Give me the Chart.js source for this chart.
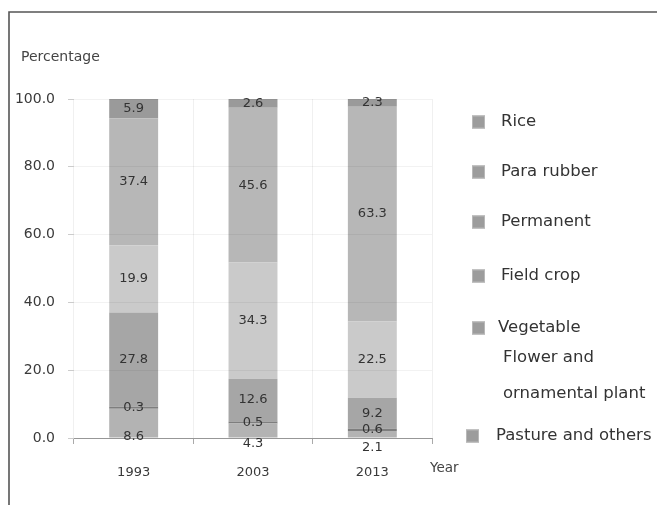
<!DOCTYPE html>
<html>
<head>
<meta charset="utf-8">
<script src="https://cdn.jsdelivr.net/npm/chart.js@4.4.1/dist/chart.umd.min.js"></script>
<style>
  html, body { margin: 0; padding: 0; background: #ffffff; }
  #wrap { width: 657px; height: 505px; position: relative; }
</style>
</head>
<body>
<div id="wrap"><canvas id="c" width="657" height="505"></canvas></div>
<script>
// ---- Data ----
const years = ['1993', '2003', '2013'];
const rice = [5.9, 2.6, 2.3];
const paraRubber = [37.4, 45.6, 63.3];
const permanent = [19.9, 34.3, 22.5];
const fieldCrop = [27.8, 12.6, 9.2];
const vegetableFlower = [0.3, 0.5, 0.6];
const pasture = [8.6, 4.3, 2.1];
const yTickValues = [0, 20, 40, 60, 80, 100];
const legendLabels = ['Rice', 'Para rubber', 'Permanent', 'Field crop', ['Vegetable', 'Flower and', 'ornamental plant'], 'Pasture and others'];

const FONT = '"DejaVu Sans", sans-serif';

// stack order bottom -> top
const datasets = [
  { label: 'Pasture and others', data: pasture, backgroundColor: '#b3b3b3', legendIndex: 5 },
  { label: 'Vegetable Flower and ornamental plant', data: vegetableFlower, backgroundColor: '#7e7e7e', minBarLength: 2, legendIndex: 4 },
  { label: 'Field crop', data: fieldCrop, backgroundColor: '#a6a6a6', legendIndex: 3 },
  { label: 'Permanent', data: permanent, backgroundColor: '#cacaca', legendIndex: 2 },
  { label: 'Para rubber', data: paraRubber, backgroundColor: '#b7b7b7', legendIndex: 1 },
  { label: 'Rice', data: rice, backgroundColor: '#9a9a9a', legendIndex: 0 }
].map(d => Object.assign({ borderWidth: 0, barPercentage: 0.41, categoryPercentage: 1.0 }, d));

const framePlugin = {
  id: 'frame',
  beforeDraw(chart) {
    const ctx = chart.ctx;
    ctx.save();
    ctx.fillStyle = '#ffffff';
    ctx.fillRect(0, 0, chart.width, chart.height);
    ctx.strokeStyle = '#555555';
    ctx.lineWidth = 1.6;
    ctx.beginPath();
    ctx.moveTo(9, 505);
    ctx.lineTo(9, 12);
    ctx.lineTo(657, 12);
    ctx.stroke();
    ctx.restore();
  }
};

const labelPlugin = {
  id: 'segLabels',
  afterDatasetsDraw(chart) {
    const ctx = chart.ctx;
    ctx.save();
    ctx.font = '13px ' + FONT;
    ctx.fillStyle = '#333333';
    ctx.textAlign = 'center';
    ctx.textBaseline = 'middle';
    chart.data.datasets.forEach((ds, i) => {
      const meta = chart.getDatasetMeta(i);
      meta.data.forEach((el, j) => {
        let y = (el.y + el.base) / 2;
        if (i === 0) y += 13;
        ctx.fillText(ds.data[j].toFixed(1), el.x, y);
      });
    });
    ctx.restore();
  }
};

const legendPlugin = {
  id: 'sideLegend',
  afterDraw(chart) {
    const ctx = chart.ctx;
    const rows = [122, 172, 222, 276, 328, 436];
    const boxX = 472, textX = 501, box = 13, extraLine = [358, 394];
    ctx.save();
    ctx.font = '16.5px ' + FONT;
    ctx.textBaseline = 'middle';
    ctx.textAlign = 'left';
    chart.data.datasets.forEach((ds) => {
      const li = ds.legendIndex;
      const y = rows[li];
      const bx = li === 5 ? boxX - 6 : boxX;
      const tx = li === 5 ? textX - 5 : textX;
      ctx.fillStyle = '#9c9c9c';
      ctx.fillRect(bx, y - box / 2, box, box);
      ctx.strokeStyle = '#b8b8b8';
      ctx.lineWidth = 1;
      ctx.strokeRect(bx + 0.5, y - box / 2 + 0.5, box - 1, box - 1);
      ctx.fillStyle = '#333333';
      const lab = legendLabels[li];
      if (Array.isArray(lab)) {
        ctx.fillText(lab[0], tx - 3, y);
        ctx.fillText(lab[1], tx + 2, extraLine[0]);
        ctx.fillText(lab[2], tx + 2, extraLine[1]);
      } else {
        ctx.fillText(lab, tx, y);
      }
    });
    // axis titles
    ctx.fillStyle = '#444444';
    ctx.textBaseline = 'alphabetic';
    ctx.font = '14px ' + FONT;
    ctx.fillText('Percentage', 21, 61);
    ctx.font = '13.5px ' + FONT;
    ctx.fillText('Year', 430, 472);
    ctx.restore();
  }
};

new Chart(document.getElementById('c'), {
  type: 'bar',
  data: { labels: years, datasets: datasets },
  options: {
    responsive: false,
    animation: false,
    devicePixelRatio: 1,
    layout: { padding: { left: 8, right: 225, top: 99, bottom: 24 } },
    plugins: { legend: { display: false }, tooltip: { enabled: false }, title: { display: false } },
    scales: {
      x: {
        stacked: true,
        afterFit(scale) { scale.height = 43; },
        grid: { offset: true, color: 'rgba(0,0,0,0.06)', tickLength: 6, tickColor: '#aaaaaa' },
        border: { display: true, color: '#a0a0a0', width: 1 },
        ticks: { font: { family: FONT, size: 13 }, color: '#3a3a3a', padding: 21 }
      },
      y: {
        stacked: true,
        min: 0,
        max: 100,
        afterFit(scale) { scale.width = 66; },
        afterBuildTicks(scale) { scale.ticks = yTickValues.map(v => ({ value: v })); },
        grid: { color: 'rgba(0,0,0,0.05)', tickLength: 6, tickColor: '#cccccc', z: 1 },
        border: { display: false },
        ticks: { font: { family: FONT, size: 14 }, color: '#3a3a3a', padding: 13, callback: v => Number(v).toFixed(1) }
      }
    }
  },
  plugins: [framePlugin, labelPlugin, legendPlugin]
});
</script>
</body>
</html>
